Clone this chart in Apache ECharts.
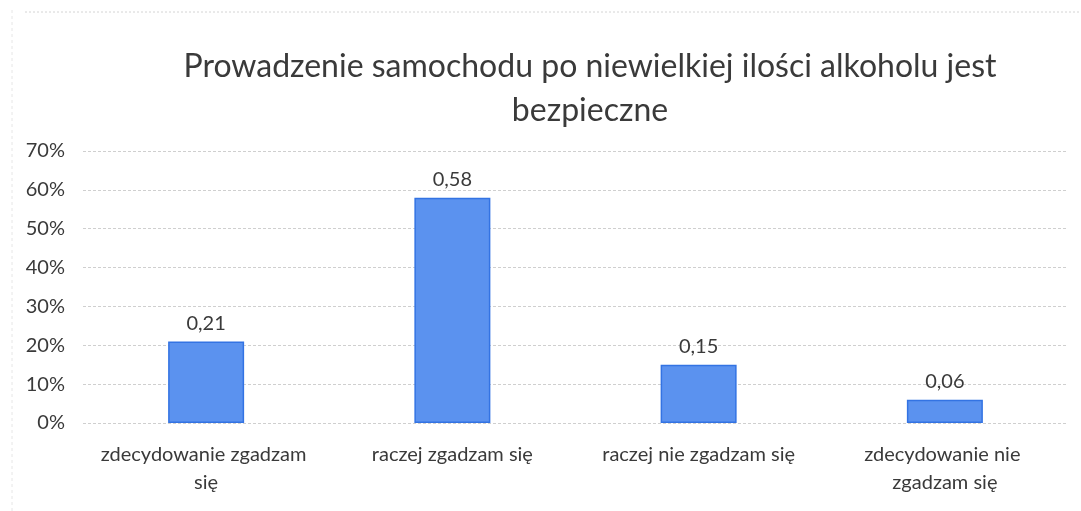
<!DOCTYPE html>
<html>
<head>
<meta charset="utf-8">
<script src="https://cdn.jsdelivr.net/npm/echarts@6/dist/echarts.min.js"></script>
<style>
  html, body { margin: 0; padding: 0; background: #fff; }
  #chart { width: 1081px; height: 511px; }
</style>
</head>
<body>
<div id="chart"></div>
<script>
// dane
var categories = ['zdecydowanie zgadzam się', 'raczej zgadzam się', 'raczej nie zgadzam się', 'zdecydowanie nie zgadzam się'];
var values = [0.21, 0.58, 0.15, 0.06];
var yTicks = [0, 0.1, 0.2, 0.3, 0.4, 0.5, 0.6, 0.7];

var chart = echarts.init(document.getElementById('chart'));
var textColor = '#3a3a3a';

var option = {
    backgroundColor: '#fff',
    textStyle: { fontFamily: 'Lato' },
    title: {
        text: 'Prowadzenie samochodu po niewielkiej ilości alkoholu jest\nbezpieczne',
        left: 585,
        textAlign: 'center',
        top: 40,
        textStyle: {
            fontFamily: 'Lato',
            fontSize: 32,
            fontWeight: 'normal',
            color: textColor,
            lineHeight: 44
        }
    },
    // ramka skanu
    graphic: [{
        type: 'line',
        shape: { x1: 25, y1: 12, x2: 1081, y2: 12 },
        style: { stroke: '#d4d4d4', lineWidth: 1, lineDash: [2, 2] }
    }, {
        type: 'line',
        shape: { x1: 12, y1: 10, x2: 12, y2: 511 },
        style: { stroke: '#e6e6e6', lineWidth: 1, lineDash: [3, 3] }
    }],
    grid: {
        left: 83,
        right: 13,
        top: 151,
        bottom: 88
    },
    xAxis: {
        type: 'category',
        data: categories,
        axisLine: { show: false },
        axisTick: { show: false },
        axisLabel: {
            color: textColor,
            fontSize: 20,
            margin: 18,
            lineHeight: 28,
            interval: 0,
            width: 215,
            overflow: 'break'
        }
    },
    yAxis: {
        type: 'value',
        min: 0,
        max: 0.7,
        interval: 0.1,
        axisLine: { show: false },
        axisTick: { show: false },
        axisLabel: {
            color: textColor,
            fontSize: 20,
            margin: 18,
            formatter: function (v) {
                return Math.round(v * 100) + '%';
            }
        },
        splitLine: {
            lineStyle: { color: '#cfcfcf', type: [3, 2], width: 1 }
        }
    },
    series: [{
        type: 'bar',
        data: values,
        barWidth: 76,
        itemStyle: {
            color: '#5b92ef',
            borderColor: '#3373e3',
            borderWidth: 1.5
        },
        label: {
            show: true,
            position: 'top',
            distance: 8,
            color: textColor,
            fontSize: 20,
            formatter: function (p) {
                return p.value.toFixed(2).replace('.', ',');
            }
        }
    }]
};

chart.setOption(option);
</script>
</body>
</html>
